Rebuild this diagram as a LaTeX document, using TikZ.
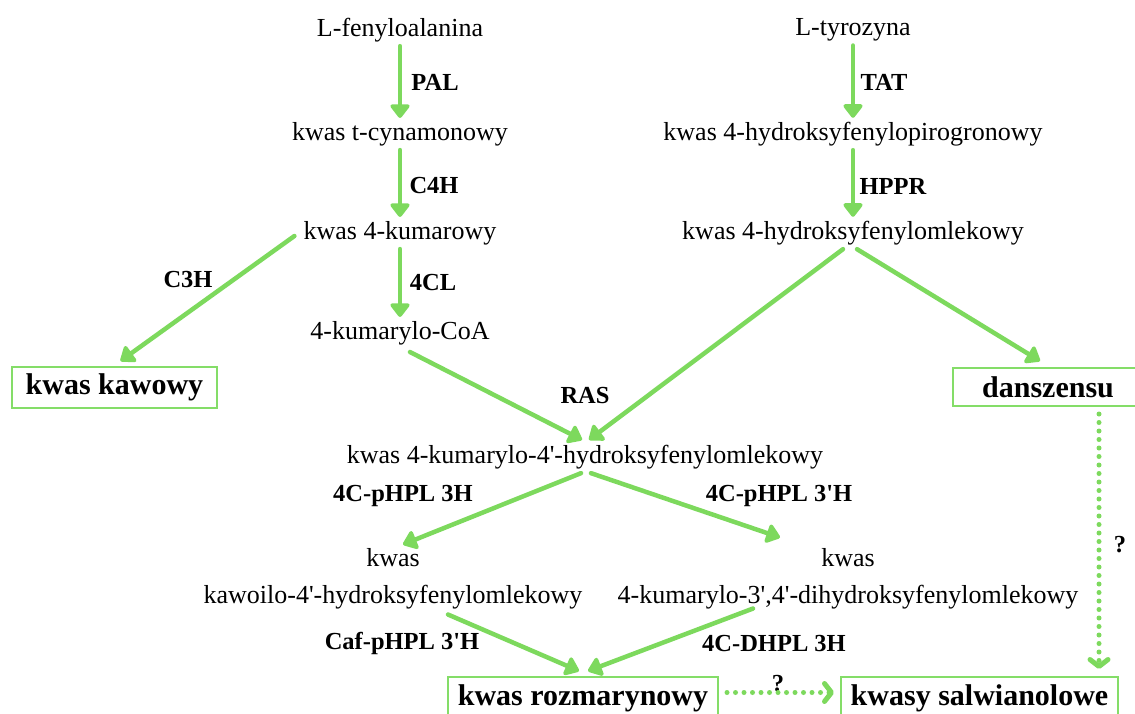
\documentclass[tikz,border=0pt]{standalone}
\usepackage{fontspec}
\setmainfont{Liberation Serif}
\usetikzlibrary{arrows.meta,calc}
\definecolor{leaf}{RGB}{125,217,93}
\definecolor{leafbox}{RGB}{132,221,104}
% straight prime used in the compound names
\newcommand{\pr}{\textquotesingle}
\begin{document}
\begin{tikzpicture}[x=1pt,y=-1pt,
  met/.style={inner xsep=3pt, inner ysep=4pt, align=center,
    font=\fontsize{26}{37}\selectfont},
  enz/.style={inner sep=0pt, font=\fontsize{24.5}{29}\selectfont\bfseries},
  endbox/.style={draw=leafbox, line width=2pt, inner sep=0pt,
    font=\fontsize{30}{36}\selectfont\bfseries},
  conv/.style={draw=leaf, line width=4.5pt, line cap=round,
    -{Triangle[length=15pt,width=22pt,round]}},
  guess/.style={draw=leaf, line width=5pt, line cap=round,
    dash pattern=on 0pt off 8.5pt,
    -{Straight Barb[length=7pt,width=18pt,round]}}
]
\useasboundingbox (0,0) rectangle (1135,713);

% metabolites
\node[met] (phe) at (400,30)  {L-fenyloalanina};
\node[met] (tyr) at (853,30)  {L-tyrozyna};
\node[met] (cyn) at (400,134) {kwas t-cynamonowy};
\node[met] (hpp) at (853,134) {kwas 4-hydroksyfenylopirogronowy};
\node[met] (kum) at (400,233) {kwas 4-kumarowy};
\node[met] (hpl) at (853,233) {kwas 4-hydroksyfenylomlekowy};
\node[met] (coa) at (400,333) {4-kumarylo-CoA};
\node[met] (kh)  at (585,457) {kwas 4-kumarylo-4\pr-hydroksyfenylomlekowy};
\node[met] (caf) at (393,579) {kwas\\kawoilo-4\pr-hydroksyfenylomlekowy};
\node[met] (dih) at (848,579) {kwas\\4-kumarylo-3\pr,4\pr-dihydroksyfenylomlekowy};

% end products
\node[endbox, minimum width=205pt, minimum height=41pt] (kaw) at (114.5,387.5) {kwas kawowy};
\node[endbox, minimum width=190pt, minimum height=38pt] (dan) at (1048,387) {danszensu};
\node[endbox, minimum width=270pt, minimum height=43pt] (ros) at (583,698.5) {kwas rozmarynowy};
\node[endbox, minimum width=277pt, minimum height=43pt] (sal) at (979.5,698.5) {kwasy salwianolowe};

% enzyme labels
\node[enz] (pal)  at (435,82)  {PAL};
\node[enz] (c4h)  at (434,186) {C4H};
\node[enz] (cl4)  at (433,283) {4CL};
\node[enz] (tat)  at (884,82)  {TAT};
\node[enz] (hppr) at (893,186) {HPPR};
\node[enz] (c3h)  at (188,280) {C3H};
\node[enz] (ras)  at (585,395) {RAS};
\node[enz] (e1)   at (403,496) {4C-pHPL 3H};
\node[enz] (e2)   at (779,496) {4C-pHPL 3\pr H};
\node[enz] (e3)   at (402,643) {Caf-pHPL 3\pr H};
\node[enz] (e4)   at (774,643) {4C-DHPL 3H};
\node[enz] (q1)   at (1120,545) {?};
\node[enz] (q2)   at (778,684) {?};

% conversions
\draw[conv] (phe) -- (cyn);
\draw[conv] (cyn) -- (kum);
\draw[conv] (kum) -- (coa);
\draw[conv] (tyr) -- (hpp);
\draw[conv] (hpp) -- (hpl);
\draw[conv] ($(kum.west)+(-6,3)$) -- ($(kaw.north)+(6,-5)$);
\draw[conv] ($(coa.south)+(10,3)$) -- ($(kh.north)+(-3,-1)$);
\draw[conv] ($(hpl.south)+(-10,0)$) -- ($(kh.north)+(4,-1)$);
\draw[conv] ($(hpl.south)+(4,0)$) -- ($(dan.north)+(-8,-6)$);
\draw[conv] ($(kh.south)+(-4,0)$) -- ($(caf.north)+(10,0)$);
\draw[conv] ($(kh.south)+(6,0)$) -- ($(dih.north)+(-68,-7)$);
\draw[conv] ($(caf.south)+(55,1)$) -- ($(ros.north)+(-4,-5)$);
\draw[conv] ($(dih.south)+(-95,-5)$) -- ($(ros.north)+(5,-5)$);

% uncertain steps
\draw[guess] ($(dan.south)+(51,7)$) -- ($(sal.north)+(119.5,-7)$);
\draw[guess] ($(ros.east)+(8,-6)$) -- ($(sal.west)+(-6,-6)$);
\end{tikzpicture}
\end{document}
